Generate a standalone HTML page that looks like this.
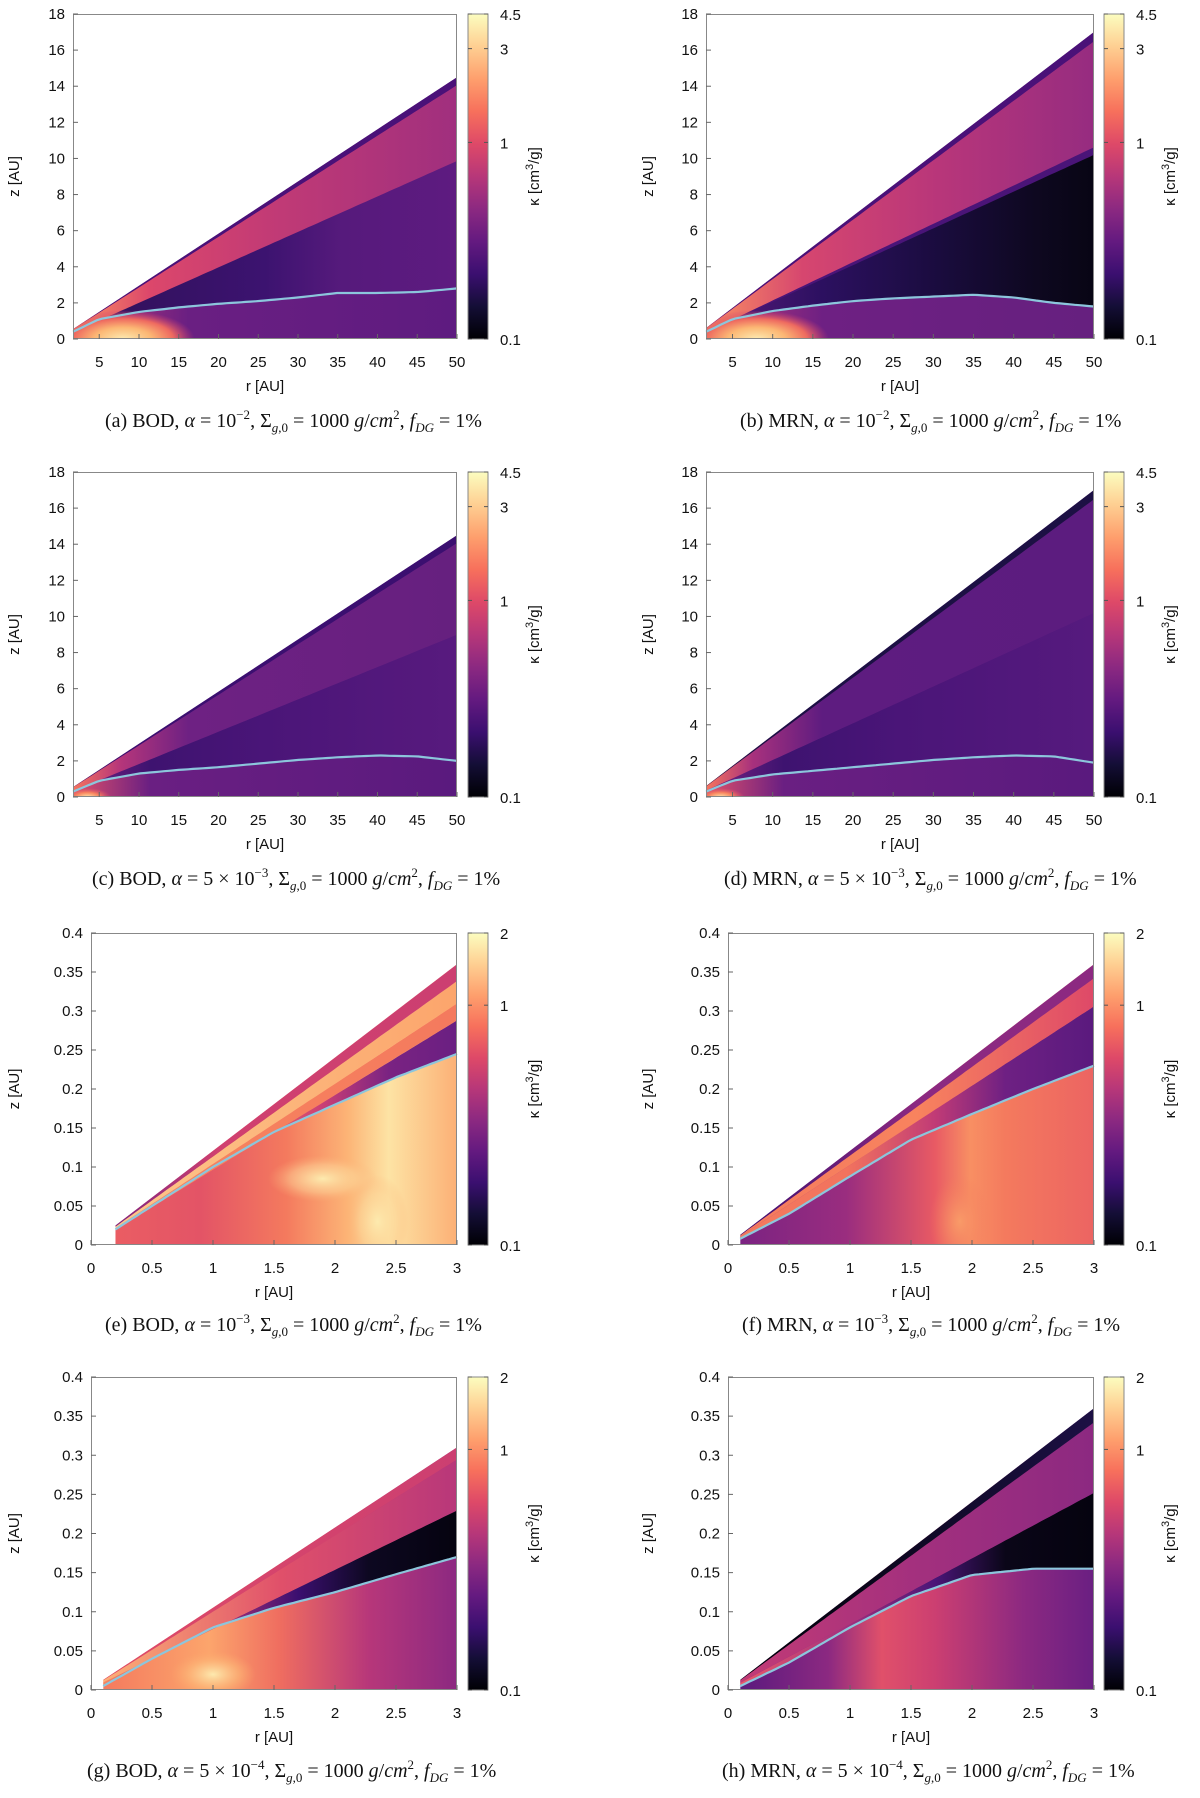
<!DOCTYPE html>
<html><head><meta charset="utf-8">
<style>
body{margin:0;background:#fff;width:1200px;height:1798px;overflow:hidden;position:relative;font-family:"Liberation Sans",sans-serif}
#fig{position:absolute;left:0;top:0}
.cap{position:absolute;font-family:"Liberation Serif",serif;font-size:20px;color:#111;white-space:nowrap;line-height:24px}
.cap i{font-style:italic}
.cap sup{font-size:13px;vertical-align:8px;line-height:0}
.cap sub{font-size:13px;vertical-align:-5px;line-height:0}
</style></head><body>
<svg id="fig" width="1200" height="1798" xmlns="http://www.w3.org/2000/svg"><defs id="defs"></defs></svg>
<div class="cap" style="left:105px;top:409px">(a) BOD, <i>α</i> = 10<sup>−2</sup>, Σ<sub><i>g</i>,0</sub> = 1000 <i>g</i>/<i>cm</i><sup>2</sup>, <i>f<sub>DG</sub></i> = 1%</div>
<div class="cap" style="left:740px;top:409px">(b) MRN, <i>α</i> = 10<sup>−2</sup>, Σ<sub><i>g</i>,0</sub> = 1000 <i>g</i>/<i>cm</i><sup>2</sup>, <i>f<sub>DG</sub></i> = 1%</div>
<div class="cap" style="left:92px;top:867px">(c) BOD, <i>α</i> = 5 × 10<sup>−3</sup>, Σ<sub><i>g</i>,0</sub> = 1000 <i>g</i>/<i>cm</i><sup>2</sup>, <i>f<sub>DG</sub></i> = 1%</div>
<div class="cap" style="left:724px;top:867px">(d) MRN, <i>α</i> = 5 × 10<sup>−3</sup>, Σ<sub><i>g</i>,0</sub> = 1000 <i>g</i>/<i>cm</i><sup>2</sup>, <i>f<sub>DG</sub></i> = 1%</div>
<div class="cap" style="left:105px;top:1313px">(e) BOD, <i>α</i> = 10<sup>−3</sup>, Σ<sub><i>g</i>,0</sub> = 1000 <i>g</i>/<i>cm</i><sup>2</sup>, <i>f<sub>DG</sub></i> = 1%</div>
<div class="cap" style="left:742px;top:1313px">(f) MRN, <i>α</i> = 10<sup>−3</sup>, Σ<sub><i>g</i>,0</sub> = 1000 <i>g</i>/<i>cm</i><sup>2</sup>, <i>f<sub>DG</sub></i> = 1%</div>
<div class="cap" style="left:87px;top:1759px">(g) BOD, <i>α</i> = 5 × 10<sup>−4</sup>, Σ<sub><i>g</i>,0</sub> = 1000 <i>g</i>/<i>cm</i><sup>2</sup>, <i>f<sub>DG</sub></i> = 1%</div>
<div class="cap" style="left:722px;top:1759px">(h) MRN, <i>α</i> = 5 × 10<sup>−4</sup>, Σ<sub><i>g</i>,0</sub> = 1000 <i>g</i>/<i>cm</i><sup>2</sup>, <i>f<sub>DG</sub></i> = 1%</div>
<script>
// ---- data ----
const xTicksOuter=[5,10,15,20,25,30,35,40,45,50];
const yTicksOuter=[0,2,4,6,8,10,12,14,16,18];
const xTicksInner=[0,0.5,1,1.5,2,2.5,3];
const yTicksInner=[0,0.05,0.1,0.15,0.2,0.25,0.3,0.35,0.4];
const cbTicksOuter=[4.5,3,1,0.1];
const cbTicksInner=[2,1,0.1];
const rOuter=[1.7,5,10,15,20,25,30,35,40,45,50];
const zA=[0.4,1.1,1.5,1.75,1.95,2.1,2.3,2.55,2.55,2.6,2.8];
const zB=[0.4,1.1,1.55,1.85,2.1,2.25,2.35,2.45,2.3,2.0,1.8];
const zC=[0.3,0.9,1.3,1.5,1.65,1.85,2.05,2.2,2.3,2.25,2.0];
const zD=[0.3,0.9,1.25,1.45,1.65,1.85,2.05,2.2,2.3,2.25,1.9];
const rE=[0.2,0.5,1,1.5,2,2.5,3];
const zE=[0.02,0.05,0.1,0.145,0.18,0.215,0.245];
const rInner=[0.1,0.5,1,1.5,2,2.5,3];
const zF=[0.008,0.04,0.088,0.135,0.168,0.2,0.23];
const zG=[0.005,0.04,0.08,0.105,0.125,0.148,0.17];
const zH=[0.005,0.035,0.08,0.12,0.147,0.155,0.155];
const wedgeA=[0.55,14.5], wedgeB=[0.6,17], wedgeC=[0.55,14.5], wedgeD=[0.6,17];
const wedgeE=[0.025,0.36], wedgeF=[0.013,0.36], wedgeG=[0.013,0.31], wedgeH=[0.013,0.36];

const NS='http://www.w3.org/2000/svg';
const svg=document.getElementById('fig');
const defs=document.getElementById('defs');
let gid=0;
function mk(tag,attrs,parent){const e=document.createElementNS(NS,tag);for(const k in attrs)e.setAttribute(k,attrs[k]);parent.appendChild(e);return e;}
function linGrad(x1,x2,stops,vertical){const id='g'+(gid++);const g=mk('linearGradient',{id:id,gradientUnits:'userSpaceOnUse',x1:vertical?0:x1,x2:vertical?0:x2,y1:vertical?x1:0,y2:vertical?x2:0},defs);stops.forEach(s=>mk('stop',{offset:s[0],'stop-color':s[1]},g));return 'url(#'+id+')';}
function radGrad(stops){const id='g'+(gid++);const g=mk('radialGradient',{id:id},defs);stops.forEach(s=>mk('stop',{offset:s[0],'stop-color':s[1],'stop-opacity':s[2]===undefined?1:s[2]},g));return 'url(#'+id+')';}
const magma=[[0,'#000004'],[0.1,'#140e36'],[0.2,'#3b0f70'],[0.3,'#641a80'],[0.4,'#8c2981'],[0.5,'#b73779'],[0.6,'#de4968'],[0.7,'#f7705c'],[0.8,'#fe9f6d'],[0.9,'#fecf92'],[1,'#fcfdbf']];

function interp(xs,ys,x){if(x<=xs[0])return ys[0];for(let i=1;i<xs.length;i++){if(x<=xs[i]){const t=(x-xs[i-1])/(xs[i]-xs[i-1]);return ys[i-1]+t*(ys[i]-ys[i-1]);}}return ys[ys.length-1];}

const panels=[
{id:'a',x0:73,x1:457,y0:14,y1:339,cb:468,xmin:1.7,xmax:50,ymax:18,outer:true,rs:rOuter,zs:zA,wedge:wedgeA,
 base:[[0,'#c03b75'],[0.3,'#6a1f82'],[1,'#5e1b80']],
 layers:[['line',0.7,[[0,'#6a1f82'],[0.15,'#33115f'],[0.5,'#3c1370'],[0.7,'#561a7c'],[1,'#5e1b80']]],
  [0.68,0.97,[[0,'#fa9062'],[0.2,'#dc476b'],[0.5,'#c33b75'],[1,'#a02f7e']]],[0.97,1.01,[[0,'#4a1178'],[1,'#4a1178']]]],
 blobs:[[8,0,9,1.6,[[0,'#fdeab0'],[0.4,'#fcb774'],[0.7,'#ee6a60'],[1,'#d04270',0]]]]},
{id:'b',x0:706,x1:1094,y0:14,y1:339,cb:1104,xmin:1.7,xmax:50,ymax:18,outer:true,rs:rOuter,zs:zB,wedge:wedgeB,
 base:[[0,'#c03b75'],[0.3,'#6e2083'],[1,'#66207f']],
 layers:[['line',0.61,[[0,'#5a1a7e'],[0.3,'#2c1060'],[0.6,'#1a0c3e'],[0.85,'#0e0820'],[1,'#080514']]],
  [0.6,0.625,[[0,'#4a1478'],[1,'#4a1478']]],
  [0.625,0.97,[[0,'#fa9062'],[0.25,'#d6466f'],[0.6,'#b8367a'],[1,'#962c80']]],[0.97,1.01,[[0,'#4a1178'],[1,'#4a1178']]]],
 blobs:[[8,0,9,1.6,[[0,'#fdeab0'],[0.4,'#fcb774'],[0.7,'#ee6a60'],[1,'#d04270',0]]]]},
{id:'c',x0:73,x1:457,y0:472,y1:797,cb:468,xmin:1.7,xmax:50,ymax:18,outer:true,rs:rOuter,zs:zC,wedge:wedgeC,
 base:[[0,'#e0506a'],[0.2,'#6a1f82'],[1,'#5a1a7e']],
 layers:[['line',0.62,[[0,'#7a2382'],[0.2,'#3e1370'],[0.5,'#4a1578'],[1,'#581a7e']]],
  [0.62,0.97,[[0,'#f6745d'],[0.12,'#b7367a'],[0.3,'#6e2183'],[1,'#66207f']]],[0.97,1.01,[[0,'#3b0f70'],[1,'#3b0f70']]]],
 blobs:[[3.5,0,3,0.5,[[0,'#fde3a4'],[0.5,'#f8835e'],[1,'#e0506a',0]]]]},
{id:'d',x0:706,x1:1094,y0:472,y1:797,cb:1104,xmin:1.7,xmax:50,ymax:18,outer:true,rs:rOuter,zs:zD,wedge:wedgeD,
 base:[[0,'#e0506a'],[0.2,'#6a1f82'],[1,'#5a1a7e']],
 layers:[['line',0.6,[[0,'#7a2382'],[0.2,'#3e1370'],[0.5,'#4a1578'],[1,'#561a7e']]],
  [0.6,0.97,[[0,'#f6745d'],[0.12,'#a8317d'],[0.3,'#5e1c80'],[1,'#5c1c7f']]],[0.97,1.01,[[0,'#1c1044'],[1,'#1c1044']]]],
 blobs:[[3.5,0,3,0.5,[[0,'#fde3a4'],[0.5,'#f8835e'],[1,'#e0506a',0]]]]},
{id:'e',x0:91,x1:457,y0:933,y1:1245,cb:468,xmin:0,xmax:3,ymax:0.4,outer:false,rs:rE,zs:zE,wedge:wedgeE,
 base:[[0,'#ea5d63'],[0.25,'#e35466'],[0.5,'#f47a5e'],[0.68,'#fcb476'],[0.8,'#fde3a4'],[1,'#fcb076']],
 layers:[['line',0.8,[[0,'#fdc48a'],[0.35,'#f57a5e'],[0.6,'#cc4075'],[0.8,'#7a2382'],[1,'#6a1f82']]],
  [0.8,0.86,[[0,'#f8855e'],[1,'#f47a5e']]],[0.86,0.94,[[0,'#fdc68a'],[1,'#fca56c']]],[0.94,1.01,[[0,'#7b2382'],[0.3,'#d0406f'],[1,'#cc3f71']]]],
 blobs:[[1.9,0.085,0.45,0.03,[[0,'#fdeaae'],[0.6,'#fdd598',0.5],[1,'#fcb076',0]]],[2.35,0.03,0.25,0.06,[[0,'#fdeaae'],[0.6,'#fdd598',0.5],[1,'#fcb076',0]]]]},
{id:'f',x0:728,x1:1094,y0:933,y1:1245,cb:1104,xmin:0,xmax:3,ymax:0.4,outer:false,rs:rInner,zs:zF,wedge:wedgeF,
 base:[[0,'#7b2382'],[0.3,'#9a2d7f'],[0.55,'#e85a64'],[0.65,'#f88f63'],[0.75,'#f47a5e'],[1,'#ec6462']],
 layers:[['line',0.85,[[0,'#f47a5e'],[0.3,'#f2735e'],[0.55,'#c13b76'],[0.75,'#6e2083'],[1,'#5a1a7e']]],
  [0.85,0.95,[[0,'#f47a5e'],[0.5,'#f8835e'],[1,'#de4968']]],[0.95,1.01,[[0,'#3b0f70'],[0.5,'#8c2981'],[1,'#8c2981']]]],
 blobs:[[1.9,0.03,0.25,0.06,[[0,'#f99b68'],[1,'#f47a5e',0]]]]},
{id:'g',x0:91,x1:457,y0:1377,y1:1690,cb:468,xmin:0,xmax:3,ymax:0.4,outer:false,rs:rInner,zs:zG,wedge:wedgeG,
 base:[[0,'#f47a5e'],[0.3,'#fca56c'],[0.5,'#ef6d60'],[0.75,'#b7377a'],[1,'#8c2981']],
 layers:[['line',0.74,[[0,'#f8855e'],[0.3,'#b8377a'],[0.55,'#3b0f70'],[0.75,'#0d0821'],[1,'#05030f']]],
  [0.74,0.95,[[0,'#fcb076'],[0.5,'#e0506a'],[1,'#b8377a']]],[0.95,1.01,[[0,'#de4968'],[1,'#cc3f71']]]],
 blobs:[[1.0,0.02,0.35,0.03,[[0,'#fde9ae'],[0.6,'#fcb577',0.7],[1,'#fca56c',0]]]]},
{id:'h',x0:728,x1:1094,y0:1377,y1:1690,cb:1104,xmin:0,xmax:3,ymax:0.4,outer:false,rs:rInner,zs:zH,wedge:wedgeH,
 base:[[0,'#5a1a7e'],[0.25,'#8c2981'],[0.4,'#e0506a'],[0.55,'#cc3f71'],[0.8,'#8c2981'],[1,'#6a1f82']],
 layers:[['line',0.7,[[0,'#e8586a'],[0.3,'#a3307e'],[0.55,'#4a1578'],[0.75,'#0a0618'],[1,'#05030f']]],
  [0.7,0.95,[[0,'#c23b76'],[0.5,'#a3307e'],[1,'#8c2981']]],[0.95,1.01,[[0,'#000004'],[1,'#1c1044']]]],
 blobs:[]}
];

panels.forEach(p=>{
  const X=r=>p.x0+(r-p.xmin)/(p.xmax-p.xmin)*(p.x1-p.x0);
  const Y=z=>p.y1-z/p.ymax*(p.y1-p.y0);
  const r0=p.rs[0], r1=p.rs[p.rs.length-1];
  const top=r=>p.wedge[0]+(p.wedge[1]-p.wedge[0])*(r-r0)/(r1-r0);
  const g=mk('g',{},svg);
  
  
  const cid='clip'+p.id;
  const cp=mk('clipPath',{id:cid},defs);
  mk('polygon',{points:[X(r0),Y(0),X(r0),Y(top(r0)),X(r1),Y(top(r1)),X(r1),Y(0)].join(' ')},cp);
  const hm=mk('g',{'clip-path':'url(#'+cid+')'},g);
  
  
  const base=mk('rect',{x:X(r0),y:p.y0,width:X(r1)-X(r0),height:p.y1-p.y0,fill:linGrad(X(r0),X(r1),p.base)},hm);
  
  
  const N=80, samples=[];
  for(let i=0;i<=N;i++)samples.push(r0+(r1-r0)*i/N);
  p.layers.forEach(L=>{
    const lo=r=>L[0]==='line'?interp(p.rs,p.zs,r):L[0]*top(r);
    const hi=r=>L[1]*top(r);
    const pts=[];
    samples.forEach(r=>pts.push(X(r).toFixed(1)+','+Y(hi(r)).toFixed(1)));
    samples.slice().reverse().forEach(r=>pts.push(X(r).toFixed(1)+','+Y(lo(r)).toFixed(1)));
    const poly=mk('polygon',{points:pts.join(' '),fill:linGrad(X(r0),X(r1),L[2])},hm);
    
    
  });
  p.blobs.forEach(b=>{
    const e=mk('ellipse',{cx:X(b[0]),cy:Y(b[1]),rx:X(b[0]+b[2])-X(b[0]),ry:Y(0)-Y(b[3]),fill:radGrad(b[4])},hm);
    
    
  });
  const lp=samples.map(r=>X(r).toFixed(1)+','+Y(interp(p.rs,p.zs,r)).toFixed(1)).join(' ');
  const line=mk('polyline',{points:lp,fill:'none',stroke:'#8cc6dc','stroke-width':2.2},g);
  
  
  const fr=mk('rect',{x:p.x0+0.5,y:p.y0+0.5,width:p.x1-p.x0-1,height:p.y1-p.y0-1,fill:'none',stroke:'#888','stroke-width':1},g);
  
  
  const xt=p.outer?xTicksOuter:xTicksInner, yt=p.outer?yTicksOuter:yTicksInner;
  xt.forEach(v=>{
    mk('line',{x1:X(v),x2:X(v),y1:p.y1,y2:p.y1-5,stroke:'#666'},g);
    const t=mk('text',{x:X(v),y:p.y1+28,'text-anchor':'middle','font-size':15,fill:'#111'},g);
    t.textContent=String(v);
    
    
  });
  yt.forEach(v=>{
    mk('line',{x1:p.x0,x2:p.x0+5,y1:Y(v),y2:Y(v),stroke:'#666'},g);
    const t=mk('text',{x:p.x0-8,y:Y(v)+5,'text-anchor':'end','font-size':15,fill:'#111'},g);
    t.textContent=String(v);
    
    
  });
  const xl=mk('text',{x:(p.x0+p.x1)/2,y:p.y1+52,'text-anchor':'middle','font-size':15,fill:'#111'},g);
  xl.textContent='r [AU]';
  
  
  const yl=mk('text',{x:0,y:0,transform:'translate('+(p.x0<400?14+5:648+5)+','+(p.y0+p.y1)/2+') rotate(-90)','text-anchor':'middle','font-size':15,fill:'#111'},g);
  yl.textContent='z [AU]';
  
  
  const cbw=20;
  const cb=mk('rect',{x:p.cb,y:p.y0,width:cbw,height:p.y1-p.y0,fill:linGrad(p.y1,p.y0,magma,true),stroke:'#888'},g);
  
  
  const cmax=p.outer?4.5:2, ct=p.outer?cbTicksOuter:cbTicksInner;
  const CY=v=>p.y1-Math.log(v/0.1)/Math.log(cmax/0.1)*(p.y1-p.y0);
  ct.forEach(v=>{
    mk('line',{x1:p.cb,x2:p.cb+4,y1:CY(v),y2:CY(v),stroke:'#555'},g);
    mk('line',{x1:p.cb+cbw-4,x2:p.cb+cbw,y1:CY(v),y2:CY(v),stroke:'#555'},g);
    const t=mk('text',{x:p.cb+32,y:CY(v)+6,'font-size':15,fill:'#111'},g);
    t.textContent=String(v);
    
    
  });
  const kl=mk('text',{x:0,y:0,transform:'translate('+(p.cb+71)+','+(p.y0+p.y1)/2+') rotate(-90)','text-anchor':'middle','font-size':15,fill:'#111'},g);
  kl.innerHTML='κ [cm<tspan dy="-6" font-size="11">3</tspan><tspan dy="6">/g]</tspan>';
  
  
});
</script>
</body></html>
